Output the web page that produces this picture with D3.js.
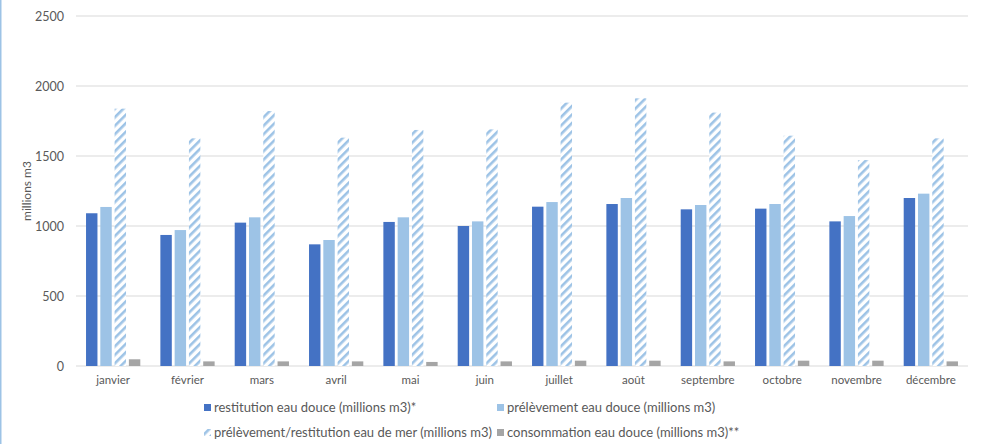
<!DOCTYPE html>
<html><head><meta charset="utf-8">
<script src="https://cdn.jsdelivr.net/npm/d3@7"></script>
<style>
html,body{margin:0;padding:0;background:#fff;}
svg{display:block;font-family:Lato, "Liberation Sans", sans-serif;}
</style></head>
<body><svg id="c" width="981" height="444"></svg>
<script>
const months = ["janvier","février","mars","avril","mai","juin","juillet","août","septembre","octobre","novembre","décembre"];
const seriesNames = ["restitution eau douce (millions m3)*","prélèvement eau douce (millions m3)","prélèvement/restitution eau de mer (millions m3)","consommation eau douce (millions m3)**"];
const restitutionDouce = [1091,936,1024,869,1029,1000,1138,1157,1119,1124,1033,1200];
const prelevementDouce = [1136,971,1062,900,1062,1033,1171,1200,1150,1157,1071,1231];
const mer = [1838,1626,1821,1631,1686,1690,1881,1912,1810,1645,1471,1626];
const consommation = [48,33,33,33,29,33,38,38,33,38,38,33];
const yTicks = [0,500,1000,1500,2000,2500];
const yTitle = "millions m3";

const seriesData = [restitutionDouce, prelevementDouce, mer, consommation];
const fills = ["#4472C4","#9DC3E6","url(#hatch)","#A5A5A5"];

const svg = d3.select("#c");
const defs = svg.append("defs");
const pat = defs.append("pattern").attr("id","hatch").attr("patternUnits","userSpaceOnUse")
  .attr("width",6).attr("height",6).attr("patternTransform","rotate(45)");
pat.append("rect").attr("width",6).attr("height",6).attr("fill","#fff");
pat.append("rect").attr("x",0).attr("y",0).attr("width",2.6).attr("height",6).attr("fill","#9DC3E6");

// left border line
svg.append("rect").attr("x",0).attr("y",0).attr("width",1.5).attr("height",444).attr("fill","#9DC3E6");

const y = d3.scaleLinear().domain([0,2500]).range([366,16]);
const x0 = d3.scaleBand().domain(months).range([76,968]).paddingInner(0.27).paddingOuter(0.135);
const x1 = d3.scaleBand().domain(d3.range(4)).range([0,x0.bandwidth()]).paddingInner(0.2);

// gridlines
svg.append("g").selectAll("line").data(yTicks).join("line")
  .attr("x1",76).attr("x2",968).attr("y1",d=>y(d)).attr("y2",d=>y(d))
  .attr("stroke","#D9D9D9").attr("stroke-width",1);

// y axis labels
const yAxis = d3.axisLeft(y).tickValues(yTicks).tickSize(0).tickPadding(0).tickFormat(d3.format("d"));
const yg = svg.append("g").attr("transform","translate(64,0)").call(yAxis);
yg.select(".domain").remove();
yg.selectAll("text").attr("fill","#595959").attr("font-size","12.5px").attr("font-family","Lato");

// bars
const groups = svg.append("g").selectAll("g").data(months).join("g")
  .attr("transform",d=>`translate(${x0(d)},0)`);
groups.selectAll("rect").data((m,i)=>seriesData.map((s,k)=>({k,v:s[i]}))).join("rect")
  .attr("x",d=>x1(d.k)).attr("width",x1.bandwidth())
  .attr("y",d=>y(d.v)).attr("height",d=>y(0)-y(d.v))
  .attr("fill",d=>fills[d.k]);

// x axis labels
const xAxis = d3.axisBottom(x0).tickSize(0).tickPadding(0);
const xg = svg.append("g").attr("transform","translate(0,376)").call(xAxis);
xg.select(".domain").remove();
xg.selectAll("text").attr("fill","#595959").attr("font-size","11.5px").attr("font-family","Lato").attr("dy","0.71em");

// y title
svg.append("text").attr("transform","translate(31,191) rotate(-90)").attr("text-anchor","middle")
  .attr("fill","#595959").attr("font-size","12px").text(yTitle);

// legend
const legPos = [[204,407.5],[497,407.5],[204,432.5],[497,432.5]];
const lg = svg.append("g").selectAll("g").data(seriesNames).join("g")
  .attr("transform",(d,i)=>`translate(${legPos[i][0]},${legPos[i][1]})`);
lg.append("rect").attr("x",0).attr("y",-3.5).attr("width",7).attr("height",7).attr("fill",(d,i)=>fills[i]);
lg.append("text").attr("x",10).attr("dy","0.35em").attr("fill","#595959").attr("font-size","13px").text(d=>d);
</script></body></html>
